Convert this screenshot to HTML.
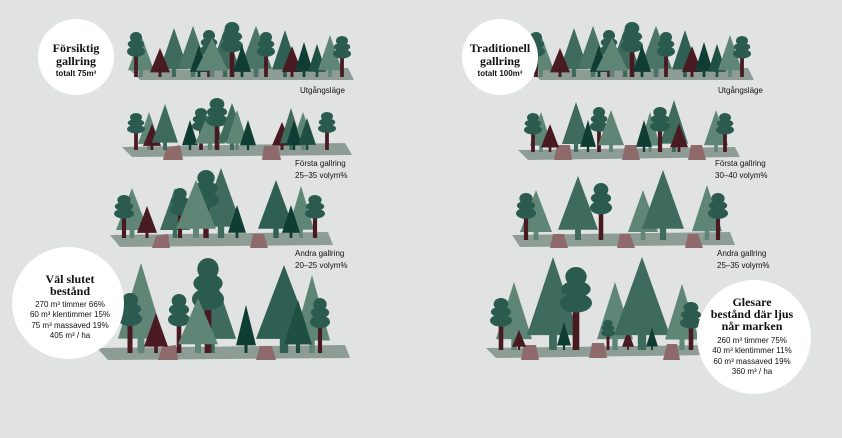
<!DOCTYPE html>
<html><head><meta charset="utf-8"><style>
html,body{margin:0;padding:0;background:#e1e3e2;width:842px;height:438px;overflow:hidden}
svg{display:block}
text{font-family:"Liberation Sans",sans-serif;fill:#111}
.t{font-family:"Liberation Serif",serif;font-weight:bold;font-size:12px}
.s{font-size:8px}
</style></head><body>
<svg width="842" height="438" viewBox="0 0 842 438" xmlns="http://www.w3.org/2000/svg">
<defs>
<symbol id="P" viewBox="0 0 20 50" preserveAspectRatio="none"><polygon points="0,42 10,0 20,42"/><rect x="8.5" y="40" width="3" height="10"/></symbol>
<symbol id="R" viewBox="0 0 24 60" preserveAspectRatio="none"><rect x="9.5" y="30" width="5" height="30" fill="#4a1a22"/><ellipse cx="12" cy="7" rx="8" ry="7" fill="#2a5b4e"/><ellipse cx="12" cy="16" rx="11" ry="6" fill="#2a5b4e"/><ellipse cx="12" cy="26" rx="12" ry="7" fill="#2a5b4e"/></symbol>
</defs>
<g fill="#8d9d95">
<polygon points="130,70 348,68 354,80 140,80"/>
<polygon points="122,147 345,143 352,155 132,157"/>
<polygon points="110,235 328,232 333,245 120,247"/>
<polygon points="97,348 345,345 350,358 108,360"/>
<polygon points="530,70 748,68 754,80 540,80"/>
<polygon points="518,150 735,147 740,157 528,160"/>
<polygon points="512,235 730,232 735,245 520,247"/>
<polygon points="486,348 710,345 712,355 496,358"/>
</g>
<g fill="#8e6a6b">
<polygon points="166,148 180,145 183,160 163,160"/><polygon points="264,146 278,146 281,160 262,160"/>
<polygon points="156,236 168,234 170,248 152,248"/><polygon points="253,234 264,234 268,248 250,248"/>
<polygon points="162,347 176,345 178,360 158,360"/><polygon points="260,346 272,346 276,360 256,360"/>
<polygon points="557,145 570,145 572,160 554,160"/><polygon points="625,145 636,145 640,160 622,160"/><polygon points="691,145 702,145 706,160 688,160"/>
<polygon points="553,234 564,234 568,248 550,248"/><polygon points="620,234 630,234 635,248 617,248"/><polygon points="688,234 698,234 703,248 685,248"/>
<polygon points="524,345 536,345 539,360 521,360"/><polygon points="592,343 604,343 607,358 589,358"/><polygon points="667,344 677,344 680,360 663,360"/>
</g>
<g id="r1">
<use href="#P" x="128" y="35" width="26" height="42" fill="#5f8576"/>
<use href="#P" x="160" y="28" width="28" height="49" fill="#3e6b5d"/>
<use href="#P" x="178" y="26" width="30" height="51" fill="#4a7465"/>
<use href="#R" x="127" y="32" width="18" height="45"/>
<use href="#P" x="150" y="48" width="20" height="29" fill="#4a1a22"/>
<use href="#P" x="190" y="45" width="18" height="32" fill="#0f3d33"/>
<use href="#R" x="200" y="30" width="18" height="47"/>
<use href="#P" x="210" y="28" width="30" height="49" fill="#3e6b5d"/>
<use href="#P" x="196" y="38" width="32" height="39" fill="#5f8576"/>
<use href="#R" x="221" y="22" width="22" height="55"/>
<use href="#P" x="240" y="26" width="32" height="51" fill="#4a7465"/>
<use href="#P" x="233" y="45" width="18" height="32" fill="#0f3d33"/>
<use href="#R" x="257" y="32" width="18" height="45"/>
<use href="#P" x="272" y="30" width="26" height="47" fill="#2f5f52"/>
<use href="#P" x="282" y="46" width="20" height="31" fill="#4a1a22"/>
<use href="#P" x="295" y="42" width="18" height="35" fill="#0f3d33"/>
<use href="#P" x="308" y="44" width="18" height="33" fill="#1f4f43"/>
<use href="#P" x="318" y="35" width="24" height="42" fill="#5f8576"/>
<use href="#R" x="333" y="36" width="18" height="41"/>
</g>
<use href="#r1" x="400" y="0"/>
<use href="#P" x="138" y="112" width="22" height="38" fill="#5f8576"/>
<use href="#R" x="127" y="113" width="18" height="37"/>
<use href="#P" x="143" y="124" width="18" height="26" fill="#4a1a22"/>
<use href="#P" x="152" y="104" width="26" height="46" fill="#3e6b5d"/>
<use href="#P" x="182" y="120" width="16" height="30" fill="#0f3d33"/>
<use href="#R" x="192" y="108" width="18" height="42"/>
<use href="#P" x="195" y="110" width="30" height="40" fill="#5f8576"/>
<use href="#R" x="206" y="98" width="22" height="52"/>
<use href="#P" x="218" y="103" width="28" height="47" fill="#3e6b5d"/>
<use href="#P" x="226" y="110" width="22" height="40" fill="#5f8576"/>
<use href="#P" x="240" y="120" width="16" height="30" fill="#0f3d33"/>
<use href="#P" x="272" y="122" width="20" height="28" fill="#4a1a22"/>
<use href="#P" x="280" y="108" width="22" height="42" fill="#3e6b5d"/>
<use href="#P" x="292" y="112" width="22" height="38" fill="#5f8576"/>
<use href="#P" x="286" y="120" width="16" height="30" fill="#0f3d33"/>
<use href="#P" x="298" y="118" width="18" height="32" fill="#1f4f43"/>
<use href="#R" x="318" y="112" width="18" height="38"/>
<use href="#P" x="116" y="188" width="32" height="50" fill="#5f8576"/>
<use href="#R" x="114" y="195" width="20" height="43"/>
<use href="#P" x="137" y="206" width="20" height="32" fill="#4a1a22"/>
<use href="#P" x="160" y="188" width="30" height="50" fill="#3e6b5d"/>
<use href="#R" x="170" y="188" width="20" height="50"/>
<use href="#P" x="200" y="168" width="42" height="70" fill="#3e6b5d"/>
<use href="#R" x="193" y="170" width="26" height="68"/>
<use href="#P" x="176" y="180" width="40" height="58" fill="#5f8576"/>
<use href="#P" x="228" y="205" width="18" height="33" fill="#0f3d33"/>
<use href="#P" x="258" y="180" width="36" height="58" fill="#2f5f52"/>
<use href="#P" x="288" y="186" width="26" height="52" fill="#5f8576"/>
<use href="#P" x="282" y="205" width="18" height="33" fill="#0f3d33"/>
<use href="#R" x="305" y="195" width="20" height="43"/>
<use href="#P" x="118" y="263" width="46" height="90" fill="#5f8576"/>
<use href="#R" x="118" y="293" width="24" height="60"/>
<use href="#P" x="144" y="313" width="24" height="40" fill="#4a1a22"/>
<use href="#P" x="186" y="265" width="50" height="88" fill="#3e6b5d"/>
<use href="#R" x="168" y="294" width="22" height="59"/>
<use href="#R" x="192" y="258" width="32" height="95"/>
<use href="#P" x="178" y="298" width="40" height="55" fill="#5f8576"/>
<use href="#P" x="236" y="305" width="20" height="48" fill="#0f3d33"/>
<use href="#P" x="256" y="265" width="56" height="88" fill="#2f5f52"/>
<use href="#P" x="294" y="275" width="36" height="78" fill="#5f8576"/>
<use href="#P" x="284" y="300" width="28" height="53" fill="#1f4f43"/>
<use href="#R" x="310" y="298" width="20" height="55"/>
<use href="#P" x="530" y="112" width="22" height="40" fill="#5f8576"/>
<use href="#R" x="524" y="113" width="18" height="39"/>
<use href="#P" x="541" y="124" width="18" height="28" fill="#4a1a22"/>
<use href="#P" x="562" y="102" width="28" height="50" fill="#3e6b5d"/>
<use href="#P" x="580" y="120" width="16" height="32" fill="#0f3d33"/>
<use href="#R" x="590" y="107" width="18" height="45"/>
<use href="#P" x="598" y="110" width="26" height="42" fill="#5f8576"/>
<use href="#P" x="640" y="112" width="20" height="40" fill="#5f8576"/>
<use href="#P" x="660" y="100" width="28" height="52" fill="#3e6b5d"/>
<use href="#P" x="636" y="120" width="16" height="32" fill="#0f3d33"/>
<use href="#R" x="650" y="107" width="20" height="45"/>
<use href="#P" x="670" y="123" width="18" height="29" fill="#4a1a22"/>
<use href="#P" x="704" y="110" width="24" height="42" fill="#5f8576"/>
<use href="#R" x="716" y="113" width="18" height="39"/>
<use href="#P" x="520" y="190" width="32" height="50" fill="#5f8576"/>
<use href="#R" x="516" y="193" width="20" height="47"/>
<use href="#P" x="558" y="176" width="40" height="64" fill="#3e6b5d"/>
<use href="#R" x="590" y="183" width="22" height="57"/>
<use href="#P" x="628" y="190" width="30" height="50" fill="#5f8576"/>
<use href="#P" x="642" y="170" width="42" height="70" fill="#3e6b5d"/>
<use href="#P" x="692" y="185" width="30" height="55" fill="#5f8576"/>
<use href="#R" x="708" y="193" width="20" height="47"/>
<use href="#P" x="496" y="282" width="36" height="68" fill="#5f8576"/>
<use href="#R" x="490" y="298" width="22" height="52"/>
<use href="#P" x="512" y="330" width="14" height="20" fill="#4a1a22"/>
<use href="#P" x="527" y="257" width="52" height="93" fill="#3e6b5d"/>
<use href="#R" x="560" y="267" width="32" height="83"/>
<use href="#P" x="557" y="322" width="14" height="28" fill="#0f3d33"/>
<use href="#P" x="597" y="282" width="36" height="68" fill="#5f8576"/>
<use href="#R" x="601" y="320" width="14" height="30"/>
<use href="#P" x="622" y="330" width="12" height="20" fill="#4a1a22"/>
<use href="#P" x="614" y="257" width="56" height="93" fill="#3e6b5d"/>
<use href="#P" x="646" y="328" width="12" height="22" fill="#0f3d33"/>
<use href="#P" x="665" y="284" width="34" height="66" fill="#5f8576"/>
<use href="#R" x="680" y="302" width="22" height="48"/>
<circle cx="76" cy="57" r="38" fill="#fff"/>
<circle cx="500" cy="57" r="38" fill="#fff"/>
<circle cx="68" cy="303" r="56" fill="#fff"/>
<circle cx="754" cy="337" r="57" fill="#fff"/>
<g text-anchor="middle">
<text class="t" x="76" y="52">Försiktig</text>
<text class="t" x="76" y="65">gallring</text>
<text class="s" x="76" y="76" font-weight="bold">totalt 75m³</text>
<text class="t" x="500" y="52">Traditionell</text>
<text class="t" x="500" y="65">gallring</text>
<text class="s" x="500" y="76" font-weight="bold">totalt 100m³</text>
<text class="t" x="70" y="283">Väl slutet</text>
<text class="t" x="70" y="295">bestånd</text>
<text class="s" x="70" y="307">270 m³ timmer 66%</text>
<text class="s" x="70" y="317">60 m³ klentimmer 15%</text>
<text class="s" x="70" y="328">75 m³ massaved 19%</text>
<text class="s" x="70" y="338">405 m³ / ha</text>
<text class="t" x="752" y="306">Glesare</text>
<text class="t" x="752" y="318">bestånd där ljus</text>
<text class="t" x="752" y="330">når marken</text>
<text class="s" x="752" y="343">260 m³ timmer 75%</text>
<text class="s" x="752" y="353">40 m³ klentimmer 11%</text>
<text class="s" x="752" y="364">60 m³ massaved 19%</text>
<text class="s" x="752" y="374">360 m³ / ha</text>
</g>
<g class="s">
<text x="300" y="93" class="s">Utgångsläge</text>
<text x="718" y="93" class="s">Utgångsläge</text>
<text x="295" y="166" class="s">Första gallring</text>
<text x="295" y="178" class="s">25–35 volym%</text>
<text x="715" y="166" class="s">Första gallring</text>
<text x="715" y="178" class="s">30–40 volym%</text>
<text x="295" y="256" class="s">Andra gallring</text>
<text x="295" y="268" class="s">20–25 volym%</text>
<text x="717" y="256" class="s">Andra gallring</text>
<text x="717" y="268" class="s">25–35 volym%</text>
</g>
</svg>
</body></html>
